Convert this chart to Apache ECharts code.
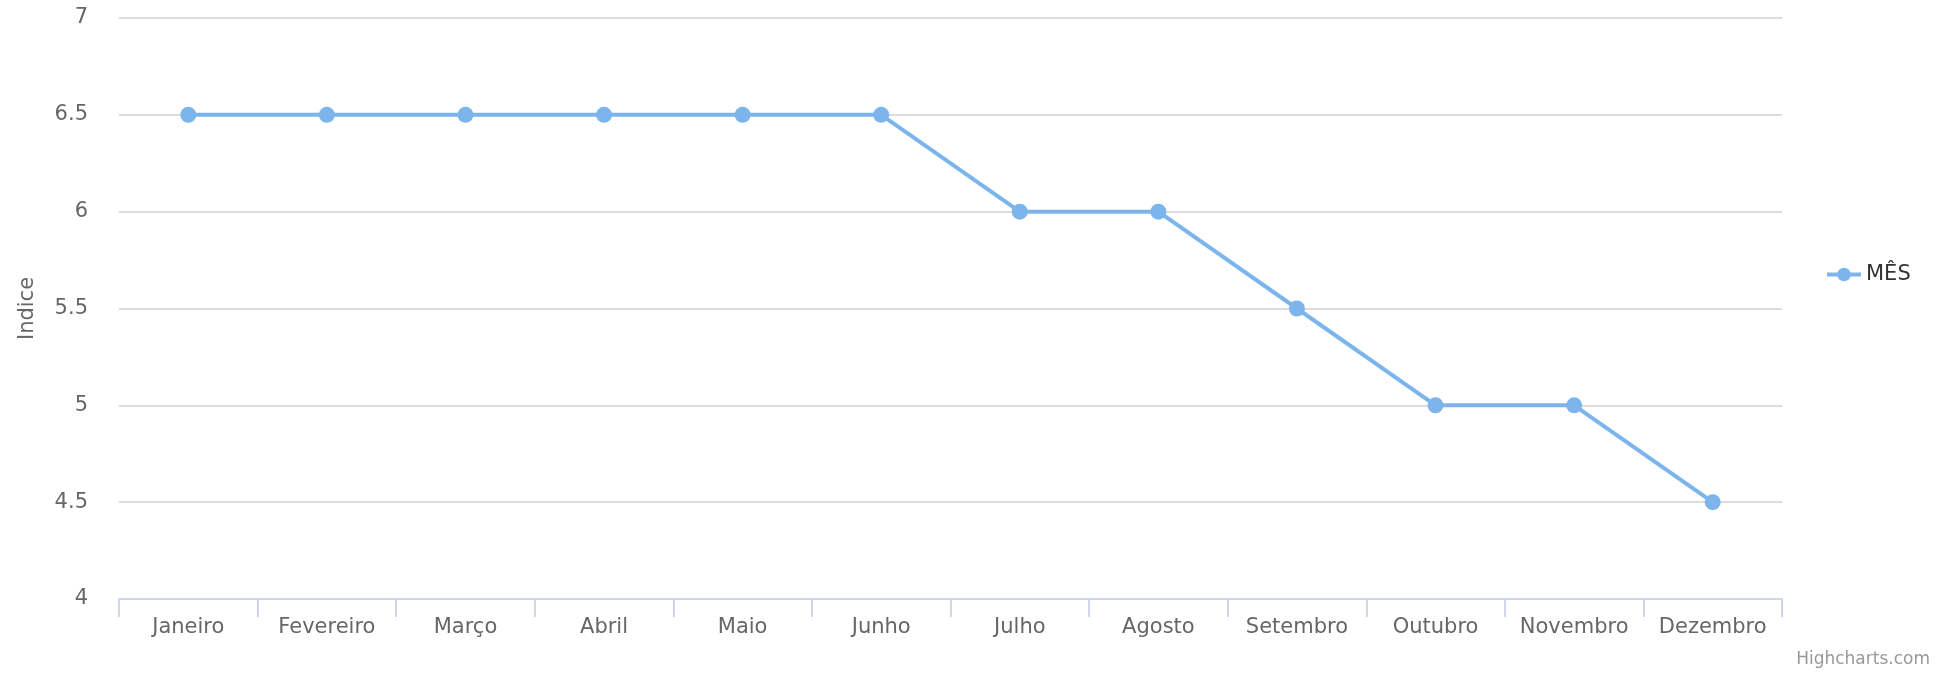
<!DOCTYPE html>
<html>
<head>
<meta charset="utf-8">
<script src="https://cdn.jsdelivr.net/npm/echarts@6/dist/echarts.min.js"></script>
<style>
  html, body { margin: 0; padding: 0; background: #fff; }
  #chart { width: 1939px; height: 677px; }
</style>
</head>
<body>
<div id="chart"></div>
<script>
// dados do gráfico
var meses = ['Janeiro', 'Fevereiro', 'Março', 'Abril', 'Maio', 'Junho',
  'Julho', 'Agosto', 'Setembro', 'Outubro', 'Novembro', 'Dezembro']
var valoresMes = [6.5, 6.5, 6.5, 6.5, 6.5, 6.5, 6, 6, 5.5, 5, 5, 4.5]
var nomeSerie = 'MÊS'

var fonte = 'DejaVu Sans'
var chart = echarts.init(document.getElementById('chart'))

chart.setOption({
  animation: false,
  grid: { left: 119, right: 157, top: 18, bottom: 78 },
  legend: {
    orient: 'vertical',
    left: 1820,
    top: 259,
    itemWidth: 34,
    itemHeight: 17,
    lineStyle: { width: 4 },
    textStyle: { color: '#333', fontSize: 21, fontFamily: fonte },
    data: [nomeSerie]
  },
  xAxis: {
    type: 'category',
    data: meses,
    boundaryGap: true,
    z: 3,
    axisLine: { show: true, lineStyle: { color: '#ccd6eb', width: 2 } },
    axisTick: { show: true, alignWithLabel: false, interval: 0, length: 18, lineStyle: { color: '#ccd6eb', width: 2 } },
    axisLabel: { color: '#666', fontSize: 21, fontFamily: fonte, margin: 18, interval: 0 }
  },
  yAxis: {
    type: 'value',
    min: 4,
    max: 7,
    interval: 0.5,
    name: 'Indice',
    nameLocation: 'middle',
    nameGap: 81,
    nameTextStyle: { color: '#666', fontSize: 21, fontFamily: fonte },
    axisLine: { show: false },
    axisTick: { show: false },
    axisLabel: { color: '#666', fontSize: 21, fontFamily: fonte, margin: 31 },
    splitLine: { lineStyle: { color: '#dcdcdc', width: 2 } }
  },
  series: [{
    name: nomeSerie,
    type: 'line',
    data: valoresMes,
    symbol: 'circle',
    symbolSize: 16,
    color: '#7cb5ec',
    lineStyle: { width: 4, color: '#7cb5ec' }
  }],
  graphic: [{
    type: 'text',
    right: 9,
    top: 651,
    style: { text: 'Highcharts.com', fill: '#999', fontSize: 17, fontFamily: fonte }
  }]
})
</script>
</body>
</html>
